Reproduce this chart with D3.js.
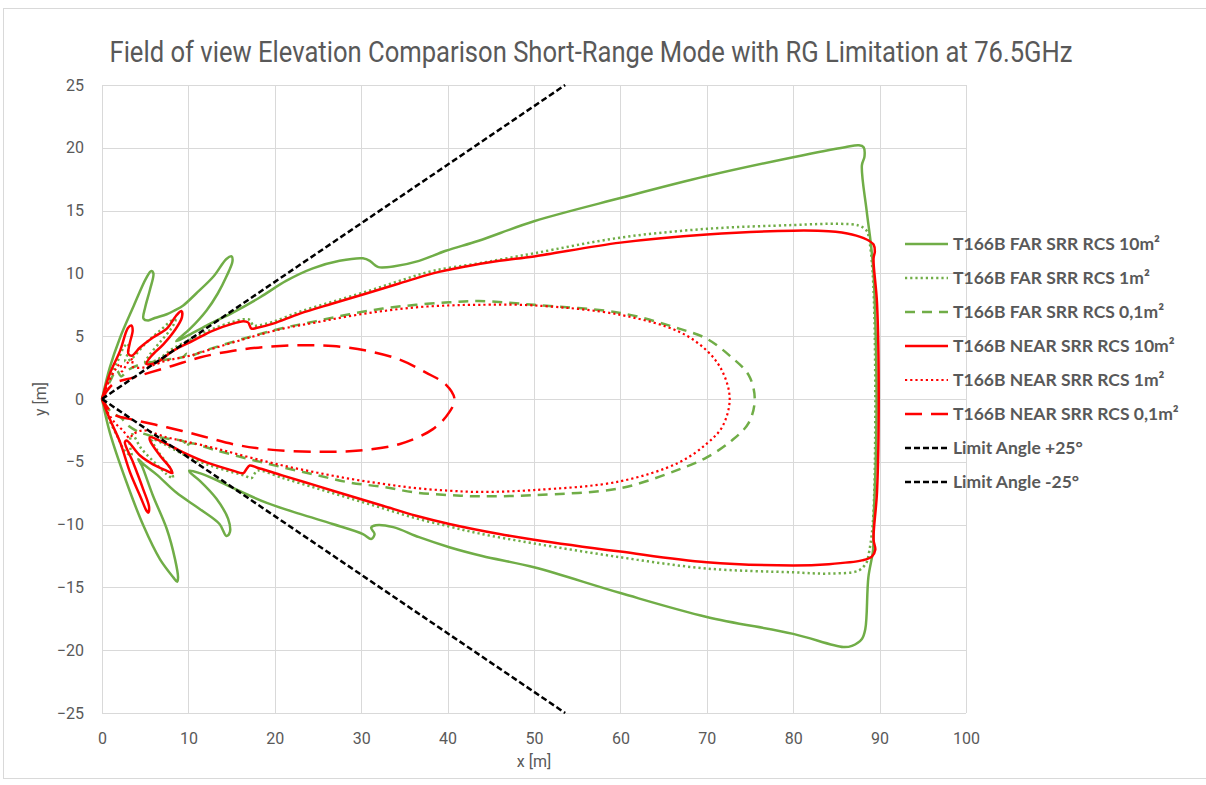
<!DOCTYPE html>
<html><head><meta charset="utf-8">
<script src="https://cdn.jsdelivr.net/npm/d3@7/dist/d3.min.js"></script>
<style>body{margin:0;background:#fff;}svg{display:block;}</style>
</head><body>
<svg id="chart" width="1206" height="785"></svg>
<script>
const titleText = "Field of view Elevation Comparison Short-Range Mode with RG Limitation at 76.5GHz";
const xTicks = [0,10,20,30,40,50,60,70,80,90,100];
const yTicks = [-25,-20,-15,-10,-5,0,5,10,15,20,25];
const seriesNames = ["T166B FAR SRR RCS 10m²","T166B FAR SRR RCS 1m²","T166B FAR SRR RCS 0,1m²","T166B NEAR SRR RCS 10m²","T166B NEAR SRR RCS 1m²","T166B NEAR SRR RCS 0,1m²","Limit Angle +25°","Limit Angle -25°"];

const farSrr10 = [[0,0],[0.9,2.5],[2.1,4.9],[3.6,7.3],[5.1,9.6],[5.7,10.2],[5.95,10.0],[5.55,8.7],[5.0,7.3],[4.8,6.4],[5.35,6.25],[6.1,6.45],[7.5,6.75],[8.4,7.05],[9.4,7.45],[10.9,8.4],[12.9,9.75],[14.4,11.15],[15.0,11.35],[15.1,10.95],[14.4,9.75],[13.4,8.4],[12.1,7.05],[10.2,5.6],[8.8,4.75],[8.6,4.6],[9.8,5.0],[12.1,5.85],[15.2,6.9],[18.3,8.1],[21.3,9.4],[24.4,10.4],[27.5,11.0],[30.2,11.2],[31.0,11.0],[31.5,10.7],[32.0,10.5],[33.7,10.55],[36.7,11.0],[39.8,11.8],[43.6,12.6],[50,14.15],[60,16.0],[70,17.75],[80,19.25],[86,20.05],[87.6,20.2],[88.15,20.05],[88.25,19.3],[87.95,18.6],[88.5,15.0],[89.0,12.3],[89.3,10],[89.55,5],[89.65,0],[89.55,-5],[89.3,-10],[89.25,-12.0],[88.7,-14.2],[88.35,-18.3],[87.95,-19.1],[86.8,-19.65],[85.8,-19.75],[80,-18.7],[70,-17.35],[60,-15.45],[50,-13.4],[44,-12.5],[40.2,-11.8],[36.7,-11.0],[33.7,-10.2],[31.7,-10.05],[31.15,-10.25],[31.55,-10.75],[31.15,-11.15],[30.2,-10.75],[26.7,-9.95],[22.9,-9.15],[19.0,-8.25],[15.2,-7.1],[13.25,-6.45],[11.3,-5.9],[10.1,-5.7],[10.2,-5.85],[11.3,-6.5],[13.25,-7.95],[14.6,-9.55],[14.8,-10.6],[14.4,-10.9],[13.6,-9.95],[11.3,-8.75],[8.6,-7.45],[6.3,-6.0],[4.8,-5.2],[4.2,-4.8],[4.6,-5.3],[5.9,-7.7],[7.5,-10.35],[8.45,-12.75],[8.8,-14.2],[8.7,-14.55],[8.25,-14.2],[6.7,-12.75],[4.8,-10.1],[2.85,-6.65],[0.9,-2.65],[0,0]];

const farSrr1 = [[0,0],[0.8,1.6],[1.8,3.0],[2.6,4.2],[3.0,4.4],[3.0,3.7],[2.7,3.0],[3.4,3.2],[5.0,4.4],[6.8,5.5],[8.2,6.3],[8.5,6.3],[8.0,5.6],[6.8,4.6],[5.5,3.5],[5.0,2.9],[6.3,3.1],[8.3,4.05],[10.6,4.85],[12.9,5.6],[15.2,6.15],[16.4,6.35],[17.1,6.3],[17.5,5.85],[18.0,5.85],[19.8,6.15],[22.9,6.95],[26.7,7.75],[30.6,8.55],[34.4,9.4],[38.3,10.2],[43.6,10.8],[50,11.6],[60,12.85],[70,13.55],[80,13.85],[85.3,13.95],[87.6,13.8],[88.5,13.4],[88.75,12.85],[89.2,10],[89.5,0],[89.2,-10],[88.7,-12.5],[88.5,-13.0],[87.6,-13.65],[84.1,-13.9],[80,-13.8],[70,-13.5],[60,-12.6],[50,-11.5],[43.6,-10.7],[40.2,-10.15],[36.35,-9.5],[32.5,-8.7],[28.65,-7.9],[24.8,-7.1],[20.95,-6.3],[18.0,-5.7],[17.6,-6.0],[17.3,-6.3],[16.5,-6.1],[15.2,-5.85],[12.1,-5.2],[9.4,-4.4],[7.2,-3.6],[5.8,-3.2],[6.5,-4.2],[7.8,-5.4],[8.2,-6.3],[7.5,-6.0],[6.0,-5.0],[4.5,-3.9],[3.5,-2.8],[3.2,-3.5],[3.4,-4.5],[2.6,-4.1],[1.8,-3.0],[0.8,-1.6],[0,0]];

const farSrr01 = [[0,0],[1.0,1.5],[1.7,2.3],[2.2,1.8],[3.0,2.3],[4.2,2.7],[5.5,2.9],[7.5,3.15],[9.4,3.35],[9.8,3.6],[10.1,3.4],[11.5,3.75],[13.25,4.15],[17.1,4.95],[20.95,5.65],[24.8,6.2],[28.65,6.75],[32.5,7.2],[36.35,7.5],[40.2,7.7],[43.6,7.8],[50,7.5],[60,6.85],[66.8,5.6],[70,4.8],[72.9,3.3],[74.85,1.9],[75.55,0],[74.85,-1.9],[72.9,-3.3],[70,-4.65],[66.8,-5.6],[60,-7.1],[50,-7.65],[43.6,-7.75],[40.2,-7.65],[36.35,-7.45],[32.5,-7.0],[28.65,-6.65],[24.8,-6.05],[20.95,-5.45],[17.1,-4.8],[13.25,-4.1],[10.1,-3.55],[9.8,-3.9],[9.5,-3.4],[7.5,-3.15],[5.5,-2.9],[4.2,-2.6],[3.0,-2.1],[2.2,-1.5],[1.0,-1.0],[0,0]];

const nearSrr10 = [[0,0],[0.9,2.0],[2.1,3.85],[3.0,5.65],[3.4,5.85],[3.55,5.45],[3.2,4.4],[3.05,3.6],[3.45,3.45],[4.4,4.1],[5.9,4.9],[7.5,5.6],[8.6,6.65],[9.2,7.0],[9.25,6.5],[8.4,5.45],[7.1,4.35],[5.75,3.45],[5.15,2.8],[6.3,2.9],[8.25,3.85],[10.55,4.65],[12.85,5.45],[15.15,6.0],[16.35,6.2],[16.9,6.1],[17.3,5.6],[17.85,5.65],[19.8,6.0],[22.9,6.8],[26.7,7.6],[30.6,8.4],[34.4,9.2],[38.3,10.0],[42.1,10.55],[46,11.0],[50,11.35],[60,12.45],[70,13.1],[80,13.4],[84.1,13.35],[86.8,13.1],[88.5,12.7],[89.3,12.3],[89.45,11.75],[89.3,11.2],[89.7,7.65],[89.9,0],[89.7,-7.4],[89.3,-11.2],[89.5,-12.0],[89.1,-12.55],[87.95,-12.85],[84.1,-13.15],[80,-13.25],[70,-13.0],[60,-12.15],[50,-11.2],[46,-10.75],[40.2,-9.95],[36.35,-9.3],[32.5,-8.5],[28.65,-7.7],[24.8,-6.9],[20.95,-6.1],[17.9,-5.45],[17.1,-5.3],[16.7,-5.6],[16.35,-5.9],[15.15,-5.7],[12.1,-5.05],[9.4,-4.25],[7.1,-3.45],[5.55,-3.05],[5.55,-3.3],[6.7,-4.5],[7.85,-5.45],[8.15,-5.9],[7.45,-5.7],[5.9,-5.2],[4.4,-4.5],[2.85,-3.3],[2.65,-3.45],[3.6,-5.05],[4.75,-7.15],[5.45,-8.6],[5.35,-9.05],[5.15,-8.9],[4.4,-7.7],[3.25,-5.85],[2.1,-3.45],[0.9,-1.6],[0,0]];

const nearSrr1 = [[0,0],[0.8,1.4],[1.6,2.4],[2.1,2.8],[2.3,2.2],[3.0,2.9],[3.6,3.2],[3.5,2.6],[4.77,2.5],[7.47,3.05],[10.17,3.45],[13.25,4.1],[17.1,4.9],[20.95,5.6],[24.8,6.1],[28.65,6.6],[32.5,7.0],[36.35,7.3],[40.2,7.45],[43.6,7.5],[50,7.45],[60,6.7],[66.8,5.35],[70,3.85],[71.8,2.2],[72.65,0],[71.8,-2.2],[70,-3.55],[66.8,-5.05],[60,-6.55],[50,-7.25],[43.6,-7.4],[40.2,-7.3],[36.35,-7.1],[32.5,-6.75],[28.65,-6.35],[24.8,-5.85],[20.95,-5.3],[17.1,-4.65],[13.25,-3.95],[9.8,-3.4],[7.47,-3.05],[4.77,-2.5],[3.6,-2.8],[3.2,-3.1],[2.4,-2.5],[1.5,-1.9],[0.7,-1.1],[0,0]];

const nearSrr01 = [[0,0],[1.3,1.2],[3.6,1.7],[5.5,2.1],[8.2,2.65],[11.3,3.3],[15.2,3.85],[19,4.15],[22.9,4.28],[26.7,4.22],[30.6,3.85],[34.4,3.15],[37.5,2.1],[39.8,1.15],[40.8,0],[40.2,-1.05],[38.3,-2.4],[34.4,-3.6],[29.8,-4.1],[24.8,-4.2],[19,-4.0],[15.2,-3.6],[11.3,-2.9],[7.5,-2.25],[3.6,-1.65],[1.3,-1.2],[0,0]];

const limitPos = [[0,0],[53.61,25]];
const limitNeg = [[0,0],[53.61,-25]];

const seriesData = [farSrr10, farSrr1, farSrr01, nearSrr10, nearSrr1, nearSrr01, limitPos, limitNeg];
const seriesStyle = [
  {color:"#70AD47", dash:null, w:2.5},
  {color:"#70AD47", dash:"2.2 3", w:2.5},
  {color:"#70AD47", dash:"10 7", w:2.5},
  {color:"#FF0000", dash:null, w:2.5},
  {color:"#FF0000", dash:"2.2 3", w:2.2},
  {color:"#FF0000", dash:"17 9", w:2.5},
  {color:"#000000", dash:"6 3", w:2.5},
  {color:"#000000", dash:"6 3", w:2.5}
];

const svg = d3.select("#chart");
const pLeft = 102, pRight = 966, pTop = 85, pBottom = 713;
const x = d3.scaleLinear().domain([0,100]).range([pLeft,pRight]);
const y = d3.scaleLinear().domain([-25,25]).range([pBottom,pTop]);

// outer border
svg.append("rect").attr("x",3.5).attr("y",8.5).attr("width",1210).attr("height",770)
  .attr("fill","none").attr("stroke","#d9d9d9").attr("stroke-width",1);

// grid
const g = svg.append("g");
g.selectAll("line.vx").data(xTicks).enter().append("line")
  .attr("x1",d=>Math.round(x(d))+0.5).attr("x2",d=>Math.round(x(d))+0.5)
  .attr("y1",pTop).attr("y2",pBottom).attr("stroke","#d9d9d9").attr("stroke-width",1);
g.selectAll("line.hy").data(yTicks).enter().append("line")
  .attr("y1",d=>Math.round(y(d))+0.5).attr("y2",d=>Math.round(y(d))+0.5)
  .attr("x1",pLeft).attr("x2",pRight).attr("stroke","#d9d9d9").attr("stroke-width",1);

// axes via d3 axis (labels only)
const xAxis = svg.append("g").attr("transform",`translate(0,${pBottom})`)
  .call(d3.axisBottom(x).tickValues(xTicks).tickSize(0).tickPadding(20));
const yAxis = svg.append("g").attr("transform",`translate(${pLeft},0)`)
  .call(d3.axisLeft(y).tickValues(yTicks).tickSize(0).tickPadding(18));
[xAxis,yAxis].forEach(a=>{
  a.select(".domain").remove();
  a.selectAll("text").attr("fill","#595959").style("font-family","Roboto, sans-serif").style("font-size","16px");
});

// axis titles
svg.append("text").attr("x",(pLeft+pRight)/2).attr("y",767).attr("text-anchor","middle")
  .attr("fill","#595959").style("font-family","Roboto, sans-serif").style("font-size","16px").text("x [m]");
svg.append("text").attr("transform",`translate(46,${(pTop+pBottom)/2}) rotate(-90)`).attr("text-anchor","middle")
  .attr("fill","#595959").style("font-family","Roboto, sans-serif").style("font-size","16px").text("y [m]");

// title
svg.append("text").attr("x",591).attr("y",62).attr("text-anchor","middle")
  .attr("fill","#595959").style("font-family","Roboto, sans-serif").style("font-size","29px")
  .attr("textLength",963).attr("lengthAdjust","spacingAndGlyphs").text(titleText);

// series
const line = d3.line().x(d=>x(d[0])).y(d=>y(d[1])).curve(d3.curveCatmullRom.alpha(0.5));
const plot = svg.append("g");
seriesData.forEach((data,i)=>{
  const s = seriesStyle[i];
  plot.append("path").datum(data).attr("d",line).attr("fill","none")
    .attr("stroke",s.color).attr("stroke-width",s.w)
    .attr("stroke-dasharray",s.dash).attr("stroke-linejoin","round");
});

// legend
const leg = svg.append("g");
seriesNames.forEach((name,i)=>{
  const yy = 244 + i*34;
  const s = seriesStyle[i];
  leg.append("line").attr("x1",905).attr("x2",948).attr("y1",yy).attr("y2",yy)
    .attr("stroke",s.color).attr("stroke-width",s.w).attr("stroke-dasharray",s.dash);
  leg.append("text").attr("x",953).attr("y",yy+6).attr("fill","#595959")
    .style("font-family","Lato, sans-serif").style("font-weight","bold").style("font-size","17.5px").text(name);
});
</script>
</body></html>
